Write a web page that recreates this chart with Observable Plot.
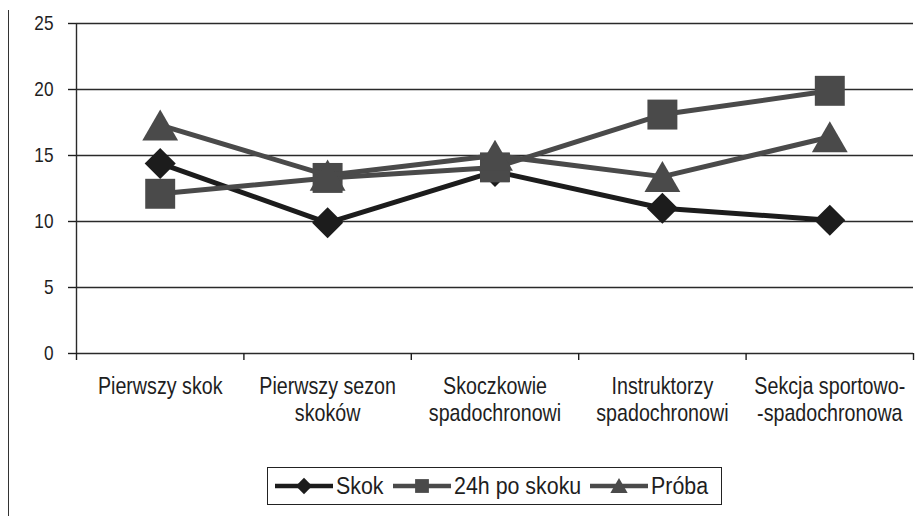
<!DOCTYPE html>
<html>
<head>
<meta charset="utf-8">
<script src="https://cdn.jsdelivr.net/npm/d3@7"></script>
<script src="https://cdn.jsdelivr.net/npm/@observablehq/plot@0.6"></script>
<style>
  html, body { margin: 0; padding: 0; background: #fff; }
  #wrap { position: relative; width: 920px; height: 516px; overflow: hidden;
          font-family: "Liberation Sans", Arial, sans-serif; color: #1e1e1e; }
  #edge { position: absolute; left: 8px; top: 10px; width: 0; height: 506px; border-left: 1.5px solid #333; }
  #chart { position: absolute; left: 0; top: 0; }
  #legend { position: absolute; left: 267px; top: 467px; width: 455px; height: 38px;
            border: 1.5px solid #222; box-sizing: border-box;
            display: flex; align-items: center; padding-left: 7px; font-size: 23px; white-space: nowrap; }
  .item { display: flex; align-items: center; margin-right: 9px; }
  .item svg { display: block; margin-right: 3px; }
  .item span { display: inline-block; transform-origin: 0 50%; }
</style>
</head>
<body>
<div id="wrap">
  <div id="edge"></div>
  <div id="chart"></div>
  <div id="legend"></div>
</div>
<script>
// Group categories (x axis) – "\n" splits a label over two lines
const categories = [
  "Pierwszy skok",
  "Pierwszy sezon\nskoków",
  "Skoczkowie\nspadochronowi",
  "Instruktorzy\nspadochronowi",
  "Sekcja sportowo-\n-spadochronowa"
];

// Series values, one per category
const skok   = [14.4, 9.9, 13.8, 11.0, 10.1];
const po24h  = [12.1, 13.3, 14.1, 18.1, 19.9];
const proba  = [17.3, 13.5, 15.0, 13.4, 16.4];

const seriesNames = ["Skok", "24h po skoku", "Próba"];
const yTicks = [0, 5, 10, 15, 20, 25];

// Horizontal squeeze giving the text a narrow, condensed face
const NARROW = 0.82;
const LEGEND_NARROW = 0.93;

// Per-series styling
const styles = {
  "Skok":         {color: "#1c1c1c", symbol: "diamond2", r: 14,   dy: 0},
  "24h po skoku": {color: "#4a4a4a", symbol: "square",   r: 16.9, dy: 0},
  "Próba":        {color: "#4a4a4a", symbol: "triangle", r: 13.3, dy: 5}
};

const seriesValues = [skok, po24h, proba];
const rows = seriesNames.flatMap((name, s) =>
  seriesValues[s].map((v, i) => ({series: name, i, value: v}))
);

// Category band edges for the x-axis tick marks
const edges = categories.map((_, i) => i - 0.5).concat([categories.length - 0.5]);

const seriesMarks = seriesNames.flatMap(name => {
  const st = styles[name];
  const data = rows.filter(d => d.series === name);
  return [
    Plot.line(data, {x: "i", y: "value", stroke: st.color, strokeWidth: 5}),
    Plot.dot(data, {x: "i", y: "value", symbol: st.symbol, r: st.r, fill: st.color, stroke: "none", dy: st.dy})
  ];
});

const chart = Plot.plot({
  width: 920,
  height: 440,
  marginTop: 23,
  marginBottom: 87,
  marginLeft: 76,
  marginRight: 7,
  style: {fontFamily: "'Liberation Sans', Arial, sans-serif", color: "#1e1e1e", background: "transparent"},
  x: {domain: [-0.5, categories.length - 0.5]},
  y: {domain: [0, 25]},
  marks: [
    Plot.ruleY(yTicks, {stroke: "#2a2a2a", strokeWidth: 1.4}),
    Plot.ruleX([-0.5], {y1: 0, y2: 25, stroke: "#2a2a2a", strokeWidth: 1.4}),
    Plot.axisY({ticks: yTicks, tickSize: 8, tickPadding: 15, fontSize: 21, label: null, strokeWidth: 1.4}),
    Plot.axisX({ticks: edges, tickSize: 7, tickFormat: () => "", label: null, strokeWidth: 1.4}),
    Plot.text(categories, {x: (d, i) => i, y: 0, dy: 22, lineAnchor: "top", lineHeight: 1.1, fontSize: 24, fill: "#1e1e1e"}),
    ...seriesMarks
  ]
});

// Condense every text around its own anchor point
chart.querySelectorAll("text").forEach(el => {
  const t = el.getAttribute("transform") || "";
  const x = +el.getAttribute("x") || 0;
  const y = +el.getAttribute("y") || 0;
  el.setAttribute("transform", `${t} translate(${x},${y}) scale(${NARROW},1) translate(${-x},${-y})`);
});
document.getElementById("chart").appendChild(chart);

// Legend: line swatch with the series marker, then the name
const legend = document.getElementById("legend");
const ns = "http://www.w3.org/2000/svg";
const legendSymbols = {diamond2: d3.symbolDiamond2, square: d3.symbolSquare, triangle: d3.symbolTriangle};
const legendSizes = {diamond2: 170, square: 190, triangle: 130};
const labels = [];
seriesNames.forEach(name => {
  const st = styles[name];
  const item = document.createElement("div");
  item.className = "item";
  const svg = document.createElementNS(ns, "svg");
  svg.setAttribute("width", 58);
  svg.setAttribute("height", 24);
  const line = document.createElementNS(ns, "line");
  line.setAttribute("x1", 0); line.setAttribute("x2", 58);
  line.setAttribute("y1", 12); line.setAttribute("y2", 12);
  line.setAttribute("stroke", st.color); line.setAttribute("stroke-width", 4.5);
  svg.appendChild(line);
  const path = document.createElementNS(ns, "path");
  path.setAttribute("d", d3.symbol(legendSymbols[st.symbol], legendSizes[st.symbol])());
  path.setAttribute("transform", `translate(29,${12 + (st.symbol === "triangle" ? 2 : 0)})`);
  path.setAttribute("fill", st.color);
  svg.appendChild(path);
  item.appendChild(svg);
  const label = document.createElement("span");
  label.textContent = name;
  item.appendChild(label);
  legend.appendChild(item);
  labels.push(label);
});
// Squeeze the legend names slightly and close the gap left behind
labels.forEach(label => {
  const w = label.offsetWidth;
  label.style.transform = `scaleX(${LEGEND_NARROW})`;
  label.style.marginRight = `${w * LEGEND_NARROW - w}px`;
});
</script>
</body>
</html>
